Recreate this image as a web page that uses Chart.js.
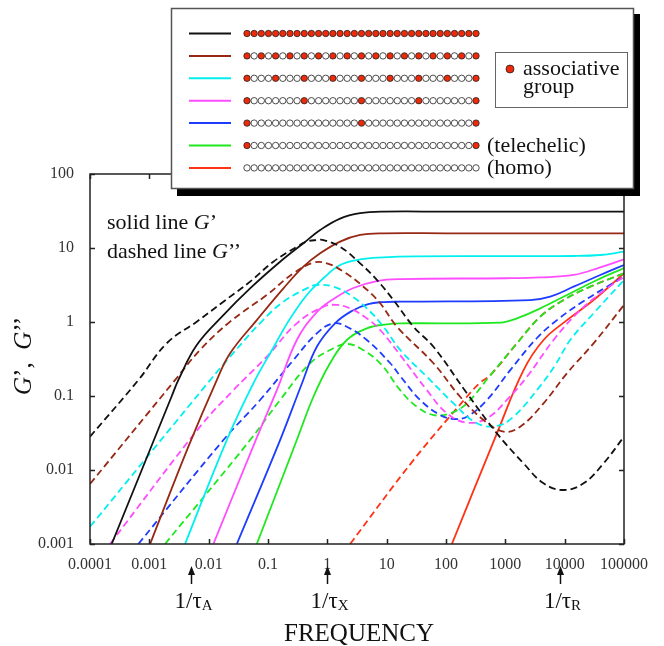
<!DOCTYPE html>
<html>
<head>
<meta charset="utf-8">
<script src="https://cdn.jsdelivr.net/npm/chart.js@4.4.1/dist/chart.umd.min.js"></script>
<style>
  html, body { margin: 0; padding: 0; background: #fff; }
  #wrap { width: 664px; height: 646px; }
</style>
</head>
<body>
<div id="wrap"><canvas id="myChart" width="664" height="646"></canvas></div>
<script>
//axis ticks
const xTickValues = [1e-4, 1e-3, 0.01, 0.1, 1, 10, 100, 1000, 10000, 100000];
const xTickLabels = ['0.0001', '0.001', '0.01', '0.1', '1', '10', '100', '1000', '10000', '100000'];
const yTickValues = [0.001, 0.01, 0.1, 1, 10, 100];
const yTickLabels = ['0.001', '0.01', '0.1', '1', '10', '100'];

//curves (frequency, modulus)
const blackGpF = [2.32e-4, 7.45e-4, 2.39e-3, 3.08e-3, 6.3e-3, 0.0177, 0.0499, 0.16, 0.395, 0.757, 1.64, 3.57, 8.83, 100, 1e5];
const blackGpV = [0.001, 0.01, 0.1, 0.164, 0.489, 1.24, 2.85, 6.53, 11.6, 17.5, 25.0, 29.5, 31.0, 31.0, 31.0];
const blackGppF = [1e-4, 6.53e-4, 1.96e-3, 6.3e-3, 0.0177, 0.0499, 0.123, 0.306, 0.451, 0.665, 0.859, 1.64, 3.57, 6.84, 13.0, 28.3, 61.5, 225, 721, 2028, 4406, 9590, 20840, 45290, 1e5];
const blackGppV = [0.0282, 0.164, 0.515, 1.01, 1.88, 3.51, 6.53, 10.4, 12.2, 12.8, 12.8, 10.4, 6.21, 3.7, 1.98, 0.863, 0.463, 0.109, 0.0313, 0.0123, 0.0066, 0.00537, 0.0066, 0.0123, 0.0282];

const brownGpF = [1.03e-3, 4.55e-3, 0.0137, 0.023, 0.0647, 0.182, 0.395, 0.757, 1.64, 3.57, 8.83, 100, 1e5];
const brownGpV = [0.001, 0.0207, 0.164, 0.378, 1.06, 2.85, 5.59, 8.47, 12.2, 15.0, 15.8, 15.8, 15.8];
const brownGppF = [1e-4, 2.71e-3, 7.16e-3, 0.023, 0.0955, 0.268, 0.583, 0.982, 1.87, 4.06, 7.77, 14.9, 61.5, 173, 429, 933, 1782, 4406, 10940, 30690, 1e5];
const brownGppV = [0.00647, 0.164, 0.419, 1.01, 2.32, 4.55, 6.33, 6.21, 4.79, 3.0, 1.79, 0.863, 0.277, 0.0977, 0.0474, 0.033, 0.0385, 0.0796, 0.203, 0.515, 1.7];

const cyanGpF = [4.0e-3, 0.0202, 0.0583, 0.117, 0.227, 0.451, 0.859, 1.64, 3.57, 8.83, 30, 1000, 14130, 39810, 1e5];
const cyanGpV = [0.001, 0.0254, 0.155, 0.419, 1.06, 2.32, 3.9, 5.89, 7.03, 7.48, 7.7, 7.75, 7.8, 8.04, 8.91];
const cyanGppF = [1e-4, 0.0106, 0.023, 0.0794, 0.182, 0.451, 0.665, 1.27, 2.42, 4.63, 8.83, 16.9, 47.6, 134, 332, 721, 1374, 3412, 6934, 12420, 30690, 1e5];
const cyanGppV = [0.00171, 0.164, 0.34, 1.03, 1.88, 2.85, 3.16, 3.0, 2.32, 1.53, 0.863, 0.419, 0.182, 0.0796, 0.0428, 0.0394, 0.0525, 0.12, 0.262, 0.571, 1.31, 3.7];

const magentaGpF = [0.012, 0.0622, 0.141, 0.306, 0.665, 1.27, 2.75, 6.84, 16.9, 1000, 3882, 14130, 39810, 1e5];
const magentaGpV = [0.001, 0.0254, 0.12, 0.571, 1.36, 2.05, 2.88, 3.58, 3.8, 3.9, 4.0, 4.32, 5.48, 7.03];
const magentaGppF = [2.17e-4, 7.16e-3, 0.0261, 0.0955, 0.306, 0.859, 1.45, 2.42, 4.63, 7.77, 16.9, 47.6, 103.5, 225, 490, 1064, 2312, 6501, 16110, 39810, 1e5];
const magentaGppV = [0.001, 0.0385, 0.12, 0.34, 0.959, 1.61, 1.7, 1.53, 1.12, 0.78, 0.358, 0.12, 0.0583, 0.0436, 0.05, 0.0883, 0.182, 0.571, 1.31, 2.44, 4.09];

const blueGpF = [0.0298, 0.16, 0.376, 0.665, 1.36, 2.59, 4.88, 8.83, 16.9, 2630, 5715, 14130, 39810, 1e5];
const blueGpV = [0.001, 0.0254, 0.15, 0.463, 0.968, 1.41, 1.75, 1.86, 1.88, 1.98, 2.2, 3.0, 4.32, 5.89];
const blueGppF = [6.53e-4, 0.0177, 0.0736, 0.268, 0.665, 1.27, 2.13, 4.63, 11.5, 16.9, 36.7, 79.8, 134, 225, 490, 1211, 3412, 7413, 18320, 51640, 1e5];
const blueGppV = [0.001, 0.0254, 0.0883, 0.306, 0.703, 0.959, 0.863, 0.571, 0.277, 0.186, 0.0883, 0.0553, 0.0489, 0.0525, 0.0883, 0.224, 0.608, 1.06, 1.79, 3.0, 4.09];

const greenGpF = [0.0647, 0.306, 0.583, 1.11, 2.13, 4.63, 10.1, 16.9, 820, 1570, 3882, 10940, 35080, 1e5];
const greenGpV = [0.001, 0.0254, 0.0977, 0.277, 0.571, 0.822, 0.931, 0.959, 0.98, 1.12, 1.53, 2.32, 3.7, 5.37];
const greenGppF = [1.84e-3, 0.0499, 0.16, 0.513, 1.27, 2.13, 3.57, 7.77, 16.9, 32.3, 61.5, 118, 225, 556, 1570, 3882, 9590, 27040, 1e5];
const greenGppV = [0.001, 0.0254, 0.0883, 0.277, 0.442, 0.505, 0.442, 0.277, 0.12, 0.0716, 0.0553, 0.0583, 0.0796, 0.19, 0.515, 1.18, 1.98, 3.0, 4.55];

const redGpF = [125.6, 721, 2028, 4406, 10940, 30690, 1e5];
const redGpV = [0.001, 0.0313, 0.224, 0.571, 1.06, 1.98, 4.55];
const redGppF = [2.42, 28.3, 225, 378, 556, 1570, 3882, 9590, 27040, 1e5];
const redGppV = [0.001, 0.0136, 0.0977, 0.152, 0.19, 0.515, 1.18, 1.98, 3.0, 4.55];

//legend: colour of each row and spacing of the red stickers (0 = none)
const rowColors = ['#111111', '#962814', '#00f0f0', '#ff4dff', '#1e3cff', '#1ee81e', '#ff3214'];
const stickerStep = [1, 2, 4, 8, 16, 32, 0];
const rowNotes = ['', '', '', '', '', '(telechelic)', '(homo)'];

//arrows under the axis
const arrowFreqs = [0.005, 1, 8500];
const arrowSubs = ['A', 'X', 'R'];

const serif = "'Liberation Serif', 'Times New Roman', serif";

function series(freq, vals, color, dashed) {
    return {
        data: freq.map((f, i) => ({ x: f, y: vals[i] })),
        borderColor: color,
        borderWidth: 1.8,
        borderDash: dashed ? [7, 4] : [],
        pointRadius: 0,
        fill: false,
        tension: 0.4
    };
}

const datasets = [
    series(blackGpF, blackGpV, rowColors[0], false),
    series(blackGppF, blackGppV, rowColors[0], true),
    series(brownGpF, brownGpV, rowColors[1], false),
    series(brownGppF, brownGppV, rowColors[1], true),
    series(cyanGpF, cyanGpV, rowColors[2], false),
    series(cyanGppF, cyanGppV, rowColors[2], true),
    series(magentaGpF, magentaGpV, rowColors[3], false),
    series(magentaGppF, magentaGppV, rowColors[3], true),
    series(blueGpF, blueGpV, rowColors[4], false),
    series(blueGppF, blueGppV, rowColors[4], true),
    series(greenGpF, greenGpV, rowColors[5], false),
    series(greenGppF, greenGppV, rowColors[5], true),
    series(redGpF, redGpV, rowColors[6], false),
    series(redGppF, redGppV, rowColors[6], true)
];

//draw a line of text made of several font runs
function drawRuns(c, x, y, runs, align) {
    let w = 0;
    runs.forEach(r => { c.font = r.font; w += c.measureText(r.t).width; });
    let cx = align === 'center' ? x - w / 2 : x;
    runs.forEach(r => {
        c.font = r.font;
        c.fillText(r.t, cx, y + (r.dy || 0));
        cx += c.measureText(r.t).width;
    });
}

const decor = {
    id: 'decor',
    afterDraw(chart) {
        const c = chart.ctx, a = chart.chartArea;
        const xs = chart.scales.x, ys = chart.scales.y;
        c.save();
        //frame and inner ticks
        c.strokeStyle = '#222';
        c.lineWidth = 1.5;
        c.setLineDash([]);
        c.strokeRect(a.left, a.top, a.right - a.left, a.bottom - a.top);
        c.beginPath();
        xTickValues.forEach(v => {
            const px = Math.round(xs.getPixelForValue(v)) + 0.5;
            c.moveTo(px, a.bottom); c.lineTo(px, a.bottom - 5);
            c.moveTo(px, a.top); c.lineTo(px, a.top + 5);
        });
        yTickValues.forEach(v => {
            const py = Math.round(ys.getPixelForValue(v)) + 0.5;
            c.moveTo(a.left, py); c.lineTo(a.left + 5, py);
            c.moveTo(a.right, py); c.lineTo(a.right - 5, py);
        });
        c.stroke();

        c.fillStyle = '#111';
        c.textBaseline = 'alphabetic';
        //note in the plot
        drawRuns(c, 107, 229, [{ t: 'solid line ', font: '22px ' + serif }, { t: 'G', font: 'italic 22px ' + serif }, { t: '\u2019', font: '22px ' + serif }], 'left');
        drawRuns(c, 107, 258, [{ t: 'dashed line ', font: '22px ' + serif }, { t: 'G', font: 'italic 22px ' + serif }, { t: '\u2019\u2019', font: '22px ' + serif }], 'left');

        //y title
        c.save();
        c.translate(31, 356);
        c.rotate(-Math.PI / 2);
        drawRuns(c, 0, 0, [
            { t: 'G', font: 'italic 25px ' + serif }, { t: '\u2019,  ', font: '25px ' + serif },
            { t: 'G', font: 'italic 25px ' + serif }, { t: '\u2019\u2019', font: '25px ' + serif }
        ], 'center');
        c.restore();

        //arrows and 1/tau labels
        arrowFreqs.forEach((f, i) => {
            const px = Math.round(xs.getPixelForValue(f)) + 0.5;
            c.strokeStyle = '#111';
            c.lineWidth = 1.5;
            c.beginPath();
            c.moveTo(px, 584); c.lineTo(px, 572);
            c.stroke();
            c.beginPath();
            c.moveTo(px, 566); c.lineTo(px - 3.5, 575); c.lineTo(px + 3.5, 575); c.closePath();
            c.fill();
            drawRuns(c, px + 2, 608, [{ t: '1/\u03c4', font: '23px ' + serif }, { t: arrowSubs[i], font: '15px ' + serif, dy: 2 }], 'center');
        });
        c.font = '25px ' + serif;
        c.textAlign = 'center';
        c.fillText('FREQUENCY', 359, 641);
        c.textAlign = 'left';

        //legend box with shadow
        c.fillStyle = '#000';
        c.fillRect(177, 14, 463, 182);
        c.fillStyle = '#fff';
        c.fillRect(171, 8, 463, 181);
        c.strokeStyle = '#555';
        c.lineWidth = 1.5;
        c.strokeRect(171.5, 8.5, 462, 180);
        rowColors.forEach((col, i) => {
            const y = 33.5 + i * 22.4;
            c.strokeStyle = col;
            c.lineWidth = 2;
            c.beginPath();
            c.moveTo(189, y); c.lineTo(231, y);
            c.stroke();
            for (let k = 0; k < 33; k++) {
                const red = stickerStep[i] > 0 && k % stickerStep[i] === 0;
                c.beginPath();
                c.arc(247 + k * 7.156, y, 3.2, 0, Math.PI * 2);
                c.fillStyle = red ? '#ee2a0a' : '#fff';
                c.fill();
                c.strokeStyle = '#222';
                c.lineWidth = 0.8;
                c.stroke();
            }
            if (rowNotes[i]) {
                c.fillStyle = '#111';
                c.font = '22px ' + serif;
                c.fillText(rowNotes[i], 487, y + 6);
            }
        });
        //associative group key
        c.strokeStyle = '#666';
        c.lineWidth = 1;
        c.strokeRect(495.5, 52.5, 132, 55);
        c.beginPath();
        c.arc(510, 69, 4, 0, Math.PI * 2);
        c.fillStyle = '#ee2a0a';
        c.fill();
        c.strokeStyle = '#222';
        c.lineWidth = 0.8;
        c.stroke();
        c.fillStyle = '#111';
        c.font = '22px ' + serif;
        c.fillText('associative', 523, 75);
        c.fillText('group', 523, 93);
        c.restore();
    }
};

const ctx = document.getElementById('myChart').getContext('2d');
const myChart = new Chart(ctx, {
    type: 'line',
    data: { datasets: datasets },
    options: {
        responsive: false,
        animation: false,
        layout: { padding: { top: 174, right: 40, left: 0, bottom: 0 } },
        plugins: { legend: { display: false }, tooltip: { enabled: false } },
        scales: {
            x: {
                type: 'logarithmic',
                min: 1e-4,
                max: 1e5,
                afterBuildTicks: s => { s.ticks = xTickValues.map(v => ({ value: v })); },
                afterFit: s => { s.height = 102; },
                grid: { display: false },
                border: { display: false },
                ticks: {
                    autoSkip: false,
                    maxRotation: 0,
                    padding: 3,
                    color: '#333',
                    font: { family: serif, size: 16 },
                    callback: (v, i) => xTickLabels[i]
                }
            },
            y: {
                type: 'logarithmic',
                min: 0.001,
                max: 100,
                afterBuildTicks: s => { s.ticks = yTickValues.map(v => ({ value: v })); },
                afterFit: s => { s.width = 90; },
                grid: { display: false },
                border: { display: false },
                ticks: {
                    autoSkip: false,
                    padding: 8,
                    color: '#333',
                    font: { family: serif, size: 16 },
                    callback: (v, i) => yTickLabels[i]
                }
            }
        }
    },
    plugins: [decor]
});
</script>
</body>
</html>
